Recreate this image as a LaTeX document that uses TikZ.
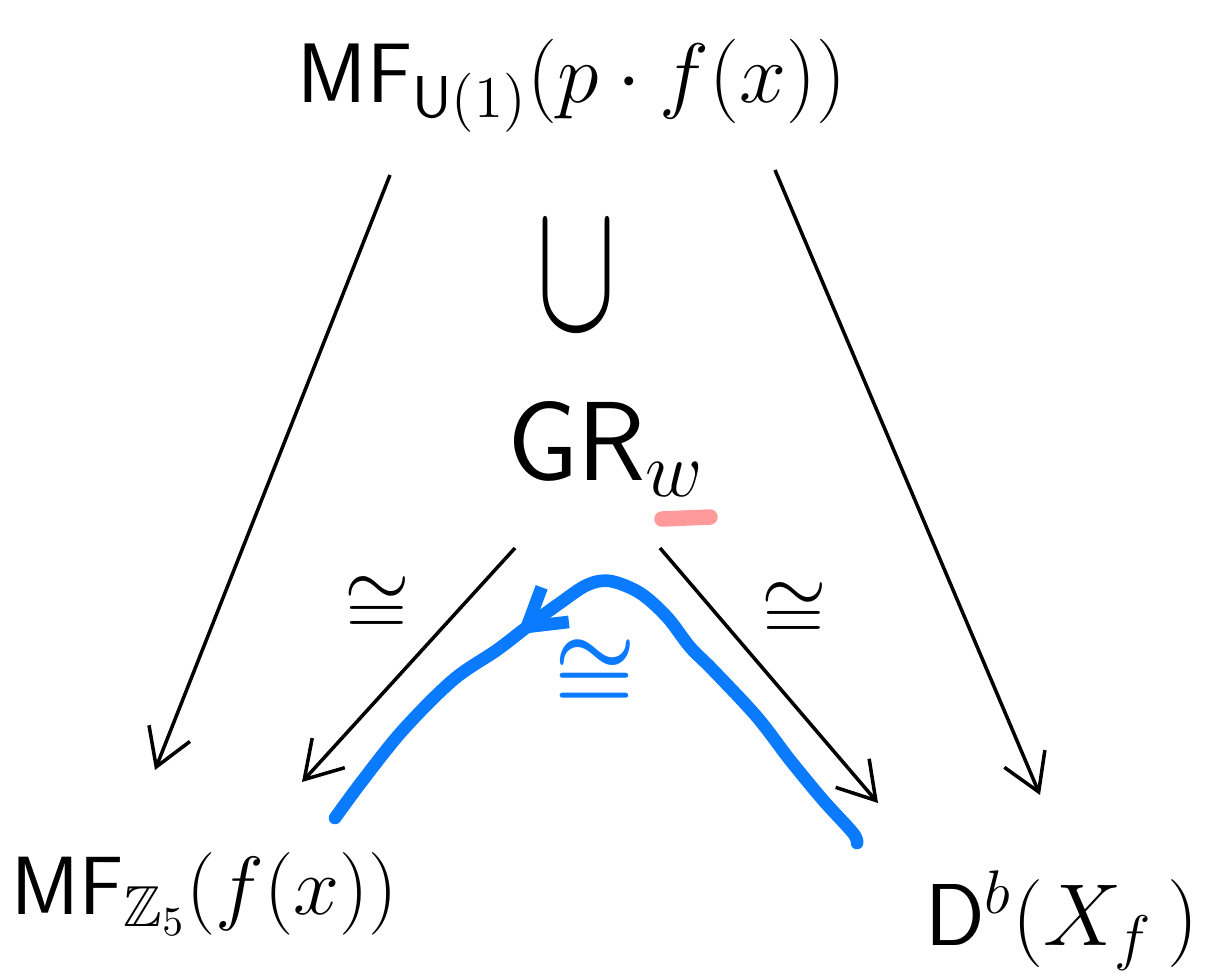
\RequirePackage{fix-cm}
\documentclass[tikz,border=0pt]{standalone}
\usepackage{amsmath,amssymb,bm}
\usepackage{tikz}
\usepackage{xcolor}
\usetikzlibrary{arrows.meta,decorations.markings}
\definecolor{cInk}{HTML}{000000}
\definecolor{cBlue}{HTML}{0A7BFF}
\definecolor{cPink}{HTML}{FF9A9A}
\tikzset{
  >={Straight Barb[length=3.6mm,width=4.4mm]},
  obj/.style   ={inner sep=0pt,anchor=base,text=cInk,font=\fontsize{24}{28}\selectfont},
  ar/.style    ={->,line width=1pt,cInk},
  iso/.style   ={inner sep=0pt,font=\fontsize{24}{26}\selectfont},
  blueline/.style={line width=3.6pt,cBlue,line cap=round,line join=round},
  hl/.style    ={line width=4.4pt,cPink,line cap=round},
}
\begin{document}
\begin{tikzpicture}[x=0.01cm,y=-0.01cm]
\useasboundingbox (0,0) rectangle (1220,978);
% objects
\node[obj] (top) at (572,102) {$\mathsf{MF}_{\mathsf{U}(1)}(p\cdot f(x))$};
\node[obj,font=\fontsize{23.5}{26}\selectfont] (mfz) at (205,914) {$\mathsf{MF}_{\mathbb{Z}_5}(f(x))$};
\node[obj,font=\fontsize{25}{28}\selectfont] (db)  at (1062,945) {$\mathsf{D}^b(X_f\,)$};
\node[obj,font=\fontsize{32}{34}\selectfont] (gr) at (606,480) {$\mathsf{GR}_w$};
\node[inner sep=0pt] (sub) at (577,277) {\resizebox{8mm}{10.5mm}{$\cup$}};

% outer maps
\draw[ar] ([shift={(-182,73)}]top.base) -- ([shift={(-50,-144)}]mfz.base);
\draw[ar] ([shift={(203,68)}]top.base) -- ([shift={(-22,-150)}]db.base);

% inner isomorphisms
\draw[ar] ([shift={(-91,68)}]gr.base) -- node[iso,pos=0.25,left=5mm] {$\cong$}
  ([shift={(97,-132)}]mfz.base);
\draw[ar] ([shift={(54,68)}]gr.base) -- node[iso,pos=0.25,right=4.5mm] {$\cong$}
  ([shift={(-184,-142)}]db.base);

% blue path
\draw[blueline,postaction={decorate},
      decoration={markings,mark=at position 0.645 with {\arrow{>}}}]
  plot[smooth,tension=0.55] coordinates {(857,843) (853,833) (823,800) (790,760)
  (757,717) (713,670) (690,647) (667,617) (640,593) (610,581) (587,585)
  (560,603) (527,627) (497,650) (453,680) (403,730) (363,780) (335,818)};
\node[iso,text=cBlue,font=\fontsize{26}{28}\selectfont] (biso) at (595,674) {$\bm{\cong}$};

% highlight under w
\draw[hl] (662,519) -- (710,517);
\end{tikzpicture}
\end{document}
